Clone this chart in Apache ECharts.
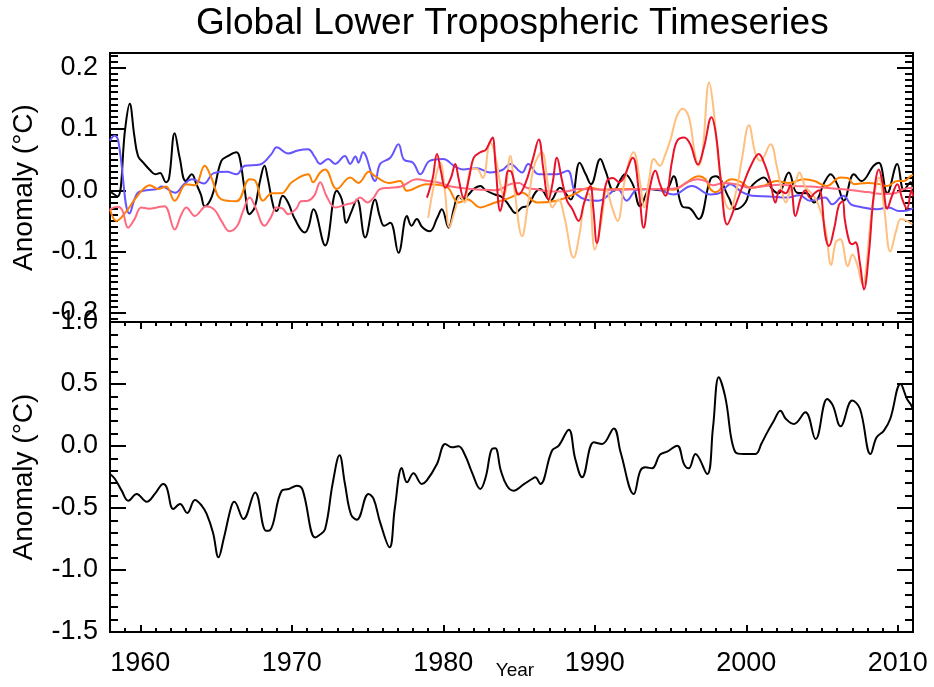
<!DOCTYPE html>
<html>
<head>
<meta charset="utf-8">
<title>Global Lower Tropospheric Timeseries</title>
<script src="https://cdn.jsdelivr.net/npm/echarts@6/dist/echarts.min.js"></script>
<style>
    html, body { margin: 0; padding: 0; background: #fff; }
    #chart { width: 934px; height: 687px; }
</style>
</head>
<body>
<div id="chart"></div>
<script>
// axis ranges and tick labels
const yearMin = 1958;
const yearMax = 2011;
const yearTicks = [1960, 1970, 1980, 1990, 2000, 2010];
const topMin = -0.215;
const topMax = 0.224;
const topTicks = [-0.2, -0.1, 0.0, 0.1, 0.2];
const bottomMin = -1.5;
const bottomMax = 1.0;
const bottomTicks = [-1.5, -1.0, -0.5, 0.0, 0.5, 1.0];

// minor tick positions
const yearMinorTicks = [];
for (let y = yearMin; y <= yearMax; y++) yearMinorTicks.push(y);
const topMinorTicks = [];
for (let i = -21; i <= 22; i++) topMinorTicks.push(i / 100);
const bottomMinorTicks = [];
for (let i = -15; i <= 10; i++) bottomMinorTicks.push(i / 10);

// top panel: residual series [year, anomaly]
const residBlack = [
    [1958.0, -0.002], [1958.5, -0.010], [1959.0, 0.100], [1959.3, 0.141], [1959.6, 0.090],
    [1959.85, 0.056], [1960.2, 0.045], [1960.6, 0.034], [1961.0, 0.026], [1961.3, 0.028],
    [1961.7, 0.013], [1961.9, 0.020], [1962.27, 0.093], [1962.6, 0.053], [1963.0, 0.015],
    [1963.4, 0.026], [1963.7, 0.010], [1964.0, -0.007], [1964.25, -0.026], [1964.6, -0.017],
    [1964.9, 0.004], [1965.35, 0.048], [1965.8, 0.056], [1966.35, 0.062], [1966.56, 0.053],
    [1966.9, -0.001], [1967.2, -0.039], [1967.55, -0.028], [1967.9, 0.015], [1968.2, 0.040],
    [1968.4, 0.021], [1968.8, -0.028], [1969.0, -0.034], [1969.4, -0.009], [1969.75, -0.020],
    [1970.2, -0.047], [1970.86, -0.069], [1971.1, -0.060], [1971.43, -0.031], [1972.2, -0.090],
    [1972.97, -0.001], [1973.3, -0.015], [1973.6, -0.053], [1973.9, -0.037], [1974.3, -0.015],
    [1974.84, -0.077], [1975.5, -0.015], [1975.8, -0.042], [1976.1, -0.058], [1976.5, -0.053],
    [1977.04, -0.102], [1977.6, -0.042], [1977.9, -0.058], [1978.25, -0.047], [1978.6, -0.060],
    [1979.1, -0.067], [1979.6, -0.045], [1979.9, -0.031], [1980.35, -0.061], [1980.7, -0.030],
    [1981.0, -0.009], [1981.3, -0.015], [1981.67, -0.007], [1982.0, 0.002], [1982.44, 0.007],
    [1982.8, 0.000], [1983.4, -0.007], [1983.8, -0.010], [1984.2, -0.020], [1984.42, -0.028],
    [1984.75, -0.037], [1985.2, -0.028], [1985.6, -0.025], [1986.07, -0.004], [1986.4, 0.002],
    [1987.06, -0.017], [1987.7, 0.004], [1988.4, -0.015], [1989.0, 0.045], [1989.4, 0.026],
    [1989.75, 0.010], [1990.36, 0.051], [1990.7, 0.032], [1991.25, -0.001], [1992.0, 0.026],
    [1992.5, 0.010], [1993.0, -0.026], [1993.67, 0.002], [1994.3, 0.000], [1994.77, 0.002],
    [1995.2, 0.023], [1995.76, -0.026], [1996.3, -0.030], [1996.86, -0.047], [1997.63, 0.018],
    [1998.0, 0.023], [1998.84, -0.012], [1999.28, -0.031], [1999.94, -0.020], [2000.27, 0.004],
    [2000.7, 0.015], [2001.15, 0.021], [2001.7, 0.002], [2002.1, -0.005], [2002.8, 0.029],
    [2003.35, -0.004], [2004.0, -0.005], [2004.46, -0.020], [2005.2, 0.015], [2005.56, 0.026],
    [2006.0, 0.010], [2006.43, -0.017], [2007.1, 0.026], [2007.6, 0.015], [2008.4, 0.040],
    [2008.75, 0.045], [2009.3, -0.005], [2009.96, 0.043], [2010.4, 0.000], [2010.84, 0.013],
    [2011.0, 0.000]
];

const residBlue = [
    [1958.0, 0.081], [1958.3, 0.089], [1958.55, 0.080], [1959.3, -0.038], [1959.8, -0.005],
    [1960.4, 0.000], [1961.1, 0.002], [1961.4, 0.006], [1962.3, -0.004], [1962.9, 0.010],
    [1963.4, 0.018], [1964.2, 0.011], [1964.85, 0.028], [1965.7, 0.030], [1966.35, 0.026],
    [1966.9, 0.040], [1967.9, 0.042], [1968.65, 0.059], [1969.0, 0.070], [1969.76, 0.060],
    [1970.4, 0.065], [1971.08, 0.067], [1971.5, 0.055], [1971.87, 0.043], [1972.4, 0.051],
    [1972.86, 0.043], [1973.5, 0.056], [1973.85, 0.043], [1974.2, 0.055], [1974.4, 0.045],
    [1974.7, 0.062], [1975.5, 0.015], [1975.83, 0.043], [1976.5, 0.053], [1977.04, 0.075],
    [1977.4, 0.050], [1978.0, 0.045], [1978.48, 0.026], [1979.1, 0.048], [1980.0, 0.051],
    [1980.7, 0.040], [1981.3, 0.034], [1982.2, 0.036], [1983.1, 0.029], [1983.9, 0.033],
    [1984.42, 0.043], [1985.2, 0.029], [1985.6, 0.043], [1986.3, 0.026], [1987.5, 0.026],
    [1988.2, 0.032], [1988.8, -0.007], [1990.25, -0.017], [1991.5, 0.002], [1992.1, -0.017],
    [1992.8, 0.001], [1994.0, 0.002], [1995.2, -0.007], [1996.4, 0.007], [1997.63, -0.007],
    [1998.3, -0.004], [1998.95, 0.010], [1999.7, -0.003], [2000.38, -0.009], [2001.5, -0.010],
    [2002.7, -0.012], [2003.5, -0.008], [2004.2, -0.017], [2005.2, -0.012], [2005.67, -0.023],
    [2006.4, -0.009], [2006.9, -0.023], [2007.3, -0.026], [2008.64, -0.031], [2009.4, -0.028],
    [2010.07, -0.034], [2010.6, -0.033], [2011.0, -0.029]
];

const residOrange = [
    [1958.0, -0.031], [1958.42, -0.050], [1959.0, -0.037], [1959.63, -0.015], [1960.2, 0.002],
    [1960.62, 0.008], [1961.2, 0.002], [1961.7, 0.006], [1962.27, -0.017], [1963.04, 0.010],
    [1963.6, 0.008], [1964.25, 0.040], [1964.7, 0.020], [1965.35, -0.015], [1966.35, -0.018],
    [1967.22, 0.018], [1967.6, 0.015], [1968.1, -0.017], [1968.7, -0.005], [1969.3, -0.005],
    [1970.0, 0.013], [1971.08, 0.026], [1971.4, 0.013], [1971.87, 0.029], [1972.2, 0.034],
    [1972.97, 0.002], [1973.85, 0.021], [1974.4, 0.012], [1975.1, 0.030], [1975.5, 0.023],
    [1976.4, 0.012], [1977.15, 0.015], [1977.6, -0.001], [1978.9, 0.010], [1980.2, 0.006],
    [1981.0, -0.020], [1981.6, -0.015], [1982.44, -0.028], [1983.2, -0.022], [1984.42, -0.012],
    [1985.2, -0.004], [1986.2, -0.020], [1987.5, -0.017], [1988.5, -0.008], [1989.7, 0.004],
    [1990.5, 0.001], [1992.0, 0.002], [1994.0, 0.002], [1995.2, 0.001], [1995.9, 0.010],
    [1996.86, 0.023], [1997.3, 0.018], [1997.63, 0.002], [1998.0, -0.003], [1998.7, 0.015],
    [1999.06, 0.018], [1999.6, 0.014], [2000.27, 0.004], [2001.2, 0.008], [2002.0, 0.015],
    [2002.8, 0.012], [2003.8, 0.018], [2004.5, 0.015], [2005.3, 0.007], [2006.2, 0.021],
    [2006.7, 0.020], [2007.1, 0.010], [2008.0, 0.012], [2008.8, 0.010], [2009.3, 0.007],
    [2009.96, 0.015], [2010.4, 0.015], [2010.84, 0.023], [2011.0, 0.025]
];

const residPink = [
    [1958.0, -0.031], [1958.5, -0.027], [1958.8, -0.032], [1959.2, -0.061], [1959.6, -0.048],
    [1960.07, -0.028], [1960.6, -0.030], [1961.1, -0.028], [1961.6, -0.026], [1962.27, -0.064],
    [1962.7, -0.040], [1963.04, -0.028], [1963.6, -0.042], [1964.36, -0.026], [1964.9, -0.032],
    [1965.35, -0.050], [1965.9, -0.067], [1966.4, -0.058], [1966.78, -0.034], [1967.22, -0.012],
    [1967.6, -0.028], [1968.2, -0.058], [1968.6, -0.045], [1969.0, -0.028], [1969.4, -0.030],
    [1969.76, -0.039], [1970.3, -0.030], [1970.6, -0.018], [1971.08, -0.017], [1971.5, -0.008],
    [1971.87, 0.013], [1972.3, -0.010], [1972.86, -0.028], [1973.6, -0.023], [1974.1, -0.020],
    [1974.5, -0.012], [1975.0, -0.020], [1975.4, -0.012], [1975.83, 0.002], [1976.5, 0.004],
    [1977.2, 0.006], [1978.25, 0.018], [1979.0, 0.015], [1979.8, 0.012], [1980.5, 0.006],
    [1981.5, 0.003], [1982.5, 0.001], [1983.5, 0.000], [1984.42, 0.010], [1985.0, 0.012],
    [1985.5, 0.004], [1986.07, 0.002], [1987.0, -0.002], [1988.0, -0.002], [1989.0, 0.002],
    [1990.5, 0.001], [1992.0, 0.001], [1993.5, 0.002], [1994.7, 0.002], [1995.5, 0.004],
    [1996.1, 0.013], [1996.8, 0.018], [1997.3, 0.015], [1997.8, 0.008], [1998.5, 0.012],
    [1999.3, 0.010], [2000.3, 0.004], [2001.3, 0.007], [2002.2, 0.009], [2003.2, 0.007],
    [2004.2, 0.006], [2005.2, 0.004], [2006.2, 0.002], [2007.0, 0.000], [2008.0, -0.003],
    [2009.0, -0.006], [2009.8, -0.005], [2010.4, 0.002], [2011.0, 0.004]
];

const residRed = [
    [1978.92, -0.012], [1979.3, 0.020], [1979.58, 0.059], [1979.85, 0.030], [1980.13, 0.004],
    [1980.5, 0.020], [1980.79, 0.043], [1981.0, 0.020], [1981.34, -0.012], [1981.7, 0.020],
    [1982.0, 0.053], [1982.44, 0.062], [1982.8, 0.066], [1983.1, 0.080], [1983.25, 0.086],
    [1983.45, 0.040], [1983.76, -0.034], [1984.05, 0.000], [1984.3, 0.032], [1984.5, 0.030],
    [1984.97, -0.007], [1985.4, 0.010], [1985.9, 0.050], [1986.3, 0.083], [1986.6, 0.035],
    [1986.95, -0.015], [1987.2, 0.010], [1987.5, 0.053], [1987.8, 0.020], [1988.16, -0.017],
    [1988.5, -0.030], [1988.93, -0.050], [1989.3, -0.020], [1989.7, 0.007], [1989.9, -0.030],
    [1990.14, -0.086], [1990.5, -0.025], [1990.8, 0.015], [1991.2, 0.020], [1991.6, 0.013],
    [1991.9, 0.020], [1992.5, 0.053], [1992.9, 0.000], [1993.22, -0.061], [1993.6, 0.000],
    [1994.0, 0.032], [1994.3, 0.010], [1994.66, -0.009], [1995.1, 0.048], [1995.42, 0.080],
    [1995.9, 0.086], [1996.3, 0.075], [1996.8, 0.042], [1997.2, 0.070], [1997.7, 0.119],
    [1998.0, 0.090], [1998.3, 0.020], [1998.74, -0.056], [1999.2, -0.030], [1999.8, 0.010],
    [2000.3, 0.040], [2000.82, 0.059], [2001.2, 0.043], [2001.6, 0.012], [2001.92, -0.020],
    [2002.2, 0.000], [2002.6, -0.005], [2002.9, 0.008], [2003.24, -0.042], [2003.6, -0.012],
    [2003.9, 0.000], [2004.2, -0.012], [2004.5, -0.005], [2004.8, 0.000], [2005.22, -0.075],
    [2005.45, -0.091], [2005.8, -0.062], [2006.1, -0.025], [2006.35, -0.018], [2006.5, -0.048],
    [2006.8, -0.084], [2007.0, -0.088], [2007.2, -0.085], [2007.5, -0.120], [2007.76, -0.162],
    [2008.1, -0.100], [2008.4, -0.010], [2008.75, 0.034], [2009.0, 0.010], [2009.3, -0.030],
    [2009.6, -0.010], [2009.96, 0.010], [2010.3, -0.015], [2010.6, -0.030], [2010.9, 0.000],
    [2011.0, -0.010]
];

const residLightOrange = [
    [1979.0, -0.045], [1979.4, 0.010], [1979.8, 0.045], [1980.1, 0.000], [1980.4, -0.060],
    [1980.8, -0.030], [1981.1, -0.010], [1981.4, -0.020], [1981.8, 0.034], [1982.2, 0.035],
    [1982.6, 0.020], [1983.1, 0.078], [1983.4, 0.060], [1983.8, 0.005], [1984.0, -0.010],
    [1984.42, 0.056], [1984.7, 0.000], [1985.2, -0.075], [1985.6, -0.020], [1986.0, 0.040],
    [1986.5, 0.062], [1986.9, 0.010], [1987.2, -0.028], [1987.6, -0.015], [1988.0, -0.045],
    [1988.6, -0.110], [1989.0, -0.070], [1989.3, -0.020], [1989.6, -0.005], [1990.0, -0.097],
    [1990.4, -0.055], [1990.8, 0.000], [1991.1, -0.025], [1991.5, -0.050], [1992.0, 0.020],
    [1992.56, 0.062], [1993.0, 0.010], [1993.25, -0.028], [1993.6, 0.020], [1993.9, 0.051],
    [1994.3, 0.040], [1994.6, 0.055], [1995.0, 0.083], [1995.4, 0.120], [1995.8, 0.133],
    [1996.2, 0.120], [1996.6, 0.060], [1996.86, 0.040], [1997.1, 0.060], [1997.55, 0.176],
    [1997.8, 0.140], [1998.2, 0.040], [1998.6, -0.020], [1998.9, -0.031], [1999.3, -0.005],
    [1999.7, 0.050], [2000.17, 0.106], [2000.6, 0.060], [2000.93, 0.048], [2001.6, 0.075],
    [2002.0, 0.040], [2002.3, 0.005], [2002.6, -0.020], [2002.9, 0.000], [2003.2, 0.010],
    [2003.5, 0.029], [2003.9, 0.005], [2004.3, -0.005], [2004.7, -0.020], [2005.2, -0.060],
    [2005.6, -0.122], [2005.9, -0.085], [2006.2, -0.080], [2006.7, -0.124], [2007.0, -0.105],
    [2007.3, -0.120], [2007.7, -0.155], [2007.9, -0.130], [2008.2, -0.050], [2008.5, 0.000],
    [2008.75, 0.021], [2009.1, -0.030], [2009.5, -0.100], [2009.9, -0.065], [2010.2, -0.047],
    [2010.6, -0.050], [2010.95, -0.056]
];

// bottom panel: global anomaly [year, anomaly]
const globalAnomaly = [
    [1958.0, -0.226], [1958.33, -0.266], [1958.77, -0.360], [1959.21, -0.441], [1959.76, -0.387],
    [1960.42, -0.449], [1961.0, -0.380], [1961.52, -0.306], [1961.74, -0.333], [1962.18, -0.508],
    [1962.62, -0.468], [1963.1, -0.540], [1963.61, -0.435], [1964.05, -0.480], [1964.38, -0.548],
    [1964.8, -0.700], [1965.16, -0.898], [1965.5, -0.750], [1966.0, -0.490], [1966.2, -0.449],
    [1966.81, -0.589], [1967.58, -0.374], [1968.3, -0.683], [1968.55, -0.680], [1969.34, -0.360],
    [1969.8, -0.347], [1970.33, -0.320], [1970.7, -0.350], [1971.54, -0.737], [1971.8, -0.720],
    [1972.2, -0.669], [1972.7, -0.300], [1973.15, -0.075], [1973.5, -0.300], [1973.9, -0.550],
    [1974.29, -0.594], [1975.06, -0.387], [1975.4, -0.427], [1975.83, -0.616], [1976.45, -0.817],
    [1976.8, -0.500], [1977.26, -0.177], [1977.6, -0.293], [1978.03, -0.220], [1978.58, -0.306],
    [1978.9, -0.280], [1979.58, -0.145], [1980.13, 0.016], [1980.57, -0.011], [1981.0, -0.003],
    [1981.45, -0.078], [1981.89, -0.212], [1982.44, -0.347], [1982.8, -0.250], [1983.21, -0.024],
    [1983.43, -0.019], [1983.8, -0.200], [1984.2, -0.320], [1984.64, -0.360], [1985.3, -0.310],
    [1985.85, -0.266], [1986.07, -0.253], [1986.4, -0.306], [1987.17, -0.038], [1987.62, 0.003],
    [1988.28, 0.132], [1988.7, -0.100], [1989.16, -0.253], [1989.93, 0.030], [1990.48, 0.016],
    [1991.25, 0.142], [1991.7, -0.050], [1992.57, -0.387], [1993.0, -0.200], [1993.34, -0.172],
    [1993.78, -0.180], [1994.3, -0.070], [1994.77, -0.046], [1995.43, 0.003], [1995.9, -0.150],
    [1996.2, -0.180], [1996.64, -0.065], [1997.41, -0.226], [1997.8, 0.150], [1998.18, 0.554],
    [1998.6, 0.400], [1999.28, -0.051], [1999.83, -0.065], [2000.6, -0.065], [2001.0, 0.020],
    [2001.38, 0.110], [2001.8, 0.200], [2002.25, 0.285], [2002.6, 0.220], [2003.13, 0.177],
    [2003.9, 0.272], [2004.57, 0.056], [2005.34, 0.379], [2005.7, 0.330], [2006.22, 0.159],
    [2006.99, 0.366], [2007.5, 0.300], [2008.2, -0.065], [2008.6, 0.070], [2009.08, 0.124],
    [2009.5, 0.220], [2010.18, 0.500], [2010.6, 0.380], [2010.9, 0.325], [2011.0, 0.290]
];

const FONT = 'Liberation Sans, Arial, Helvetica, sans-serif';

function xTickAxis(grid, position, values, len, withLabels) {
    return {
        type: 'value', gridIndex: grid, position: position, min: yearMin, max: yearMax,
        axisLine: { show: false, onZero: false },
        splitLine: { show: false },
        axisTick: {
            show: values.length > 0, inside: true, length: len, customValues: values,
            lineStyle: { color: '#000', width: 2 }
        },
        axisLabel: withLabels ? {
            customValues: yearTicks, color: '#000', fontSize: 27, fontFamily: FONT, margin: 18,
            formatter: v => String(v)
        } : { show: false }
    };
}

function yTickAxis(grid, position, min, max, values, len, labels, name) {
    const axis = {
        type: 'value', gridIndex: grid, position: position, min: min, max: max,
        axisLine: { show: false, onZero: false },
        splitLine: { show: false },
        axisTick: {
            show: true, inside: true, length: len, customValues: values,
            lineStyle: { color: '#000', width: 2 }
        },
        axisLabel: labels ? {
            customValues: labels, color: '#000', fontSize: 27, fontFamily: FONT, margin: 12,
            formatter: v => v.toFixed(1)
        } : { show: false }
    };
    if (name) {
        axis.name = name;
        axis.nameLocation = 'middle';
        axis.nameGap = 72;
        axis.nameMoveOverlap = false;
        axis.nameTextStyle = { color: '#000', fontSize: 28, fontFamily: FONT };
    }
    return axis;
}

function line(data, color, xIdx, yIdx) {
    return {
        type: 'line', data: data, xAxisIndex: xIdx, yAxisIndex: yIdx,
        smooth: 0.4, showSymbol: false, symbol: 'none', clip: true,
        lineStyle: { color: color, width: 2 },
        emphasis: { disabled: true }
    };
}

const chart = echarts.init(document.getElementById('chart'), null, { renderer: 'canvas' });

const bottomXAxis = xTickAxis(1, 'bottom', yearTicks, 7, true);
bottomXAxis.name = 'Year';
bottomXAxis.nameLocation = 'middle';
bottomXAxis.nameGap = 29;
bottomXAxis.nameMoveOverlap = false;
bottomXAxis.nameTextStyle = { color: '#000', fontSize: 19, fontFamily: FONT, padding: [0, 0, 0, 7] };

const option = {
    backgroundColor: '#fff',
    animation: false,
    title: {
        text: 'Global Lower Tropospheric Timeseries',
        left: 196,
        top: 5,
        padding: 0,
        textStyle: { color: '#000', fontSize: 37, fontWeight: 'normal', fontFamily: FONT }
    },
    grid: [
        { left: 110, right: 21, top: 53, height: 269, outerBoundsMode: 'none', show: true, borderColor: '#000', borderWidth: 2, backgroundColor: 'transparent' },
        { left: 110, right: 21, top: 322, height: 310, outerBoundsMode: 'none', show: true, borderColor: '#000', borderWidth: 2, backgroundColor: 'transparent' }
    ],
    xAxis: [
        xTickAxis(0, 'bottom', [], 0, false),
        bottomXAxis,
        xTickAxis(1, 'bottom', yearMinorTicks, 4, false),
        xTickAxis(1, 'top', yearTicks, 7, false),
        xTickAxis(1, 'top', yearMinorTicks, 4, false)
    ],
    yAxis: [
        yTickAxis(0, 'left', topMin, topMax, topTicks, 16, topTicks, 'Anomaly (°C)'),
        yTickAxis(0, 'left', topMin, topMax, topMinorTicks, 8, null),
        yTickAxis(0, 'right', topMin, topMax, topTicks, 16, null),
        yTickAxis(0, 'right', topMin, topMax, topMinorTicks, 8, null),
        yTickAxis(1, 'left', bottomMin, bottomMax, bottomTicks, 16, bottomTicks, 'Anomaly (°C)'),
        yTickAxis(1, 'left', bottomMin, bottomMax, bottomMinorTicks, 8, null),
        yTickAxis(1, 'right', bottomMin, bottomMax, bottomTicks, 16, null),
        yTickAxis(1, 'right', bottomMin, bottomMax, bottomMinorTicks, 8, null)
    ],
    series: [
        line(residBlack, '#000000', 0, 0),
        line(residBlue, '#6655ff', 0, 0),
        line(residOrange, '#ff8000', 0, 0),
        line(residPink, '#ff6a80', 0, 0),
        line(residLightOrange, '#ffbf7f', 0, 0),
        line(residRed, '#e8132b', 0, 0),
        line(globalAnomaly, '#000000', 1, 4)
    ]
};

chart.setOption(option);
window.addEventListener('resize', () => chart.resize());
</script>
</body>
</html>
